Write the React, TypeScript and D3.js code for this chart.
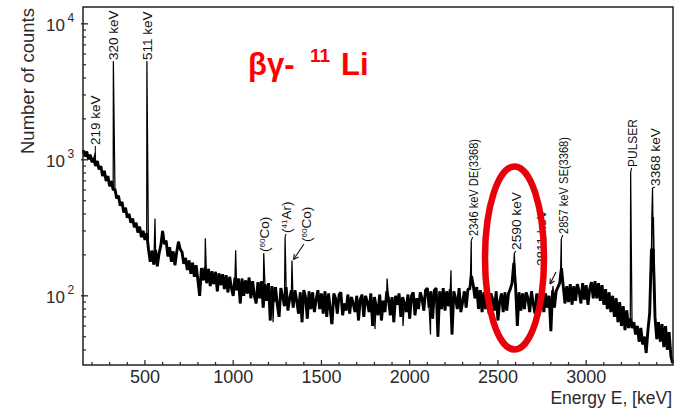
import React from "react";
import * as d3 from "d3";

// ---- data ----
const ENERGY_START = 150; // keV, first sample
const ENERGY_STEP = 10; // keV between continuum samples
const continuumCounts: number[] = [
  1180, 1060, 1150, 1010, 1090, 960, 1030, 900, 980, 850,
  900, 760, 830, 700, 760, 640, 700, 600, 610, 520,
  545, 460, 490, 410, 445, 375, 400, 345, 370, 320,
  345, 292, 322, 270, 300, 258, 288, 220, 178, 215,
  170, 218, 165, 205, 235, 300, 240, 255, 195, 228,
  178, 212, 168, 210, 250, 220, 210, 172, 190, 155,
  182, 145, 175, 138, 168, 130, 100, 160, 130, 162,
  124, 158, 118, 152, 122, 150, 108, 146, 120, 144,
  112, 142, 106, 138, 114, 100, 136, 110, 134, 88,
  134, 100, 130, 104, 136, 96, 128, 100, 88, 126,
  96, 128, 82, 122, 92, 124, 66, 118, 90, 116,
  86, 70, 114, 100, 84, 116, 78, 96, 110, 82,
  110, 92, 74, 106, 64, 110, 98, 68, 108, 80,
  106, 76, 94, 110, 80, 104, 74, 108, 70, 104,
  80, 62, 104, 96, 74, 102, 106, 72, 88, 78,
  102, 74, 98, 88, 76, 100, 66, 94, 102, 70,
  100, 90, 76, 104, 60, 98, 84, 72, 102, 66,
  92, 76, 108, 96, 72, 98, 64, 100, 86, 104,
  70, 98, 88, 76, 102, 68, 100, 106, 72, 96,
  80, 106, 96, 78, 110, 114, 82, 108, 68, 110,
  114, 50, 108, 80, 114, 78, 108, 84, 112, 52,
  108, 96, 80, 114, 76, 90, 108, 82, 112, 112,
  140, 120, 96, 116, 80, 110, 76, 106, 80, 108,
  74, 104, 94, 78, 108, 66, 90, 104, 76, 106,
  78, 104, 112, 124, 175, 118, 60, 106, 78, 104,
  80, 106, 96, 76, 108, 88, 74, 104, 70, 106,
  108, 76, 104, 82, 100, 55, 110, 82, 108, 116,
  124, 160, 118, 88, 118, 90, 122, 86, 118, 92,
  122, 108, 88, 124, 94, 120, 86, 112, 126, 96,
  128, 96, 124, 92, 120, 86, 112, 80, 106, 76,
  100, 70, 96, 64, 90, 60, 84, 56, 78, 58,
  68, 58, 64, 52, 60, 46, 58, 44, 50, 38,
  56, 75, 220, 220, 70, 48, 64, 46, 62, 42,
  60, 40, 54, 36, 32,
];

// narrow lines (peaks) and single-channel spikes
const peakEnergies = [219, 321, 511, 557, 842, 1014, 1173, 1226, 1294, 1333, 1552, 1803, 1872, 1962, 2118, 2234, 2345, 2349, 2593, 2812, 2855, 2859, 3252, 3366, 3372, 3376, 3381, 3386];
const peakCounts = [1130, 5300, 5300, 370, 265, 216, 206, 64, 271, 182, 64, 57, 134, 60, 52, 154, 150, 256, 206, 118, 150, 262, 813, 170, 380, 620, 380, 170];

const xTickValues = d3.range(200, 3500, 100);
const xTickLabelValues = [500, 1000, 1500, 2000, 2500, 3000];
const yDecades = [100, 1000, 10000];
const yDecadeExponents = ["2", "3", "4"];

// ---- layout ----
const W = 677;
const H = 411;
const PL = 83;
const PR = 673;
const PT = 7;
const PB = 365;
const FONT = "'Liberation Sans', Arial, Helvetica, sans-serif";
const INK = "#2a2a2a";

type Part = { t: string; sup?: boolean };
type Ann = {
  parts: Part[];
  energy: number;
  dx: number;
  bottom: number;
  len?: number;
  leaderCount?: number;
  leaderEnergy?: number;
};

const annotations: Ann[] = [
  { parts: [{ t: "219 keV" }], energy: 219, dx: 0, bottom: 145 },
  { parts: [{ t: "320 keV" }], energy: 321, dx: 0, bottom: 60, leaderCount: 5300, leaderEnergy: 321 },
  { parts: [{ t: "511 keV" }], energy: 511, dx: 0, bottom: 60, leaderCount: 5300, leaderEnergy: 511 },
  { parts: [{ t: "(" }, { t: "60", sup: true }, { t: "Co)" }], energy: 1173, dx: 0, bottom: 252, leaderCount: 206, leaderEnergy: 1173 },
  { parts: [{ t: "(" }, { t: "41", sup: true }, { t: "Ar)" }], energy: 1294, dx: 1, bottom: 233, leaderCount: 271, leaderEnergy: 1294 },
  { parts: [{ t: "(" }, { t: "60", sup: true }, { t: "Co)" }], energy: 1333, dx: 14, bottom: 242 },
  { parts: [{ t: "2346 keV DE(3368)" }], energy: 2349, dx: 1.5, bottom: 236, len: 97, leaderCount: 256, leaderEnergy: 2349 },
  { parts: [{ t: "2590 keV" }], energy: 2593, dx: 1.5, bottom: 250, len: 58, leaderCount: 206, leaderEnergy: 2593 },
  { parts: [{ t: "2811 keV" }], energy: 2812, dx: -11.5, bottom: 266 },
  { parts: [{ t: "2857 keV SE(3368)" }], energy: 2859, dx: 1.5, bottom: 234, len: 97, leaderCount: 262, leaderEnergy: 2859 },
  { parts: [{ t: "PULSER" }], energy: 3252, dx: 1, bottom: 167, len: 48, leaderCount: 813, leaderEnergy: 3252 },
  { parts: [{ t: "3368 keV" }], energy: 3376, dx: 2.5, bottom: 186, len: 58, leaderCount: 620, leaderEnergy: 3376 },
];

export default function App() {
  const x = d3.scaleLinear().domain([149, 3492]).range([PL, PR]);
  const y = d3.scaleLog().domain([31, 13300]).range([PB, PT]);

  type P = { e: number; c: number };
  const continuum: P[] = continuumCounts.map((c, i) => ({ e: ENERGY_START + i * ENERGY_STEP, c }));
  const peaks: P[] = peakEnergies.map((e, i) => ({ e, c: peakCounts[i] }));
  const points = [...continuum, ...peaks].sort((a, b) => a.e - b.e);
  const lineGen = d3
    .line<P>()
    .x((d) => x(d.e))
    .y((d) => y(d.c));
  const fullPath = lineGen(points) as string;
  const bandPath = lineGen(continuum) as string;

  const minorY: number[] = [];
  [10, 100, 1000, 10000].forEach((dec) => {
    for (let m = 2; m <= 9; m++) {
      const v = m * dec;
      if (v > 31 && v < 13300) minorY.push(v);
    }
  });

  return (
    <svg
      width={W}
      height={H}
      viewBox={`0 0 ${W} ${H}`}
      style={{ position: "absolute", left: 0, top: 0, background: "#fff" }}
      fontFamily={FONT}
    >
      <rect x={0} y={0} width={W} height={H} fill="#fff" />
      {/* spectrum: dense band of noisy channels, then the full trace with peaks */}
      <path d={bandPath} fill="none" stroke="#000" strokeWidth={2.9} strokeLinejoin="bevel" />
      <path d={fullPath} fill="none" stroke="#000" strokeWidth={1.25} strokeLinejoin="miter" strokeMiterlimit={2} />

      {/* frame */}
      <rect x={PL} y={PT} width={PR - PL} height={PB - PT} fill="none" stroke="#222" strokeWidth={1.5} />

      {/* x ticks */}
      {xTickValues.map((v) => (
        <line
          key={"xt" + v}
          x1={x(v)}
          x2={x(v)}
          y1={PB}
          y2={PB - (v % 500 === 0 ? 5 : 3)}
          stroke="#222"
          strokeWidth={1.2}
        />
      ))}
      {xTickLabelValues.map((v) => (
        <text key={"xl" + v} x={x(v)} y={383} textAnchor="middle" fontSize={18} fill={INK}>
          {v}
        </text>
      ))}

      {/* y ticks */}
      {minorY.map((v) => (
        <line key={"ym" + v} x1={PL} x2={PL + 3} y1={y(v)} y2={y(v)} stroke="#222" strokeWidth={1.2} />
      ))}
      {yDecades.map((v, i) => (
        <g key={"yd" + v}>
          <line x1={PL - 2} x2={PL + 5} y1={y(v)} y2={y(v)} stroke="#222" strokeWidth={1.3} />
          <text x={65} y={y(v) + 7} textAnchor="end" fontSize={17} fill={INK}>
            10
          </text>
          <text x={67.5} y={y(v) - 1.5} fontSize={12} fill={INK}>
            {yDecadeExponents[i]}
          </text>
        </g>
      ))}

      {/* axis titles */}
      <text transform={`translate(28,81) rotate(-90)`} textAnchor="middle" dy="0.35em" fontSize={18.5} fill={INK}>
        Number of counts
      </text>
      <text x={672} y={404} textAnchor="end" fontSize={17.5} fill={INK}>
        Energy E, [keV]
      </text>

      {/* peak labels */}
      {annotations.map((a, i) => {
        const lx = x(a.energy) + a.dx;
        return (
          <g key={"ann" + i}>
            <text
              transform={`translate(${lx},${a.bottom}) rotate(-90)`}
              dy="0.36em"
              fontSize={13.5}
              fill="#111"
              textLength={a.len}
              lengthAdjust={a.len ? "spacingAndGlyphs" : undefined}
            >
              {a.parts.map((p, j) =>
                p.sup ? (
                  <tspan key={j} fontSize={8} baselineShift="super">
                    {p.t}
                  </tspan>
                ) : (
                  <tspan key={j}>{p.t}</tspan>
                )
              )}
            </text>
            {a.leaderCount !== undefined && a.leaderEnergy !== undefined && (
              <line
                x1={lx}
                y1={a.bottom + 1}
                x2={x(a.leaderEnergy)}
                y2={Math.max(a.bottom + 1, y(a.leaderCount))}
                stroke="#111"
                strokeWidth={1.1}
              />
            )}
          </g>
        );
      })}
      {/* 219 keV leader */}
      <line x1={x(219)} x2={x(219)} y1={146} y2={156} stroke="#111" strokeWidth={1.1} />
      {/* (60Co) 1332 arrow */}
      <line x1={304} y1={244} x2={293.5} y2={259.5} stroke="#111" strokeWidth={1.1} />
      <path d="M293.5,259.5 L294.3,253.8 M293.5,259.5 L298.6,257" stroke="#111" strokeWidth={1.1} fill="none" />
      {/* 2811 arrow */}
      <line x1={556} y1={272} x2={550} y2={284} stroke="#111" strokeWidth={1.1} />
      <path d="M550,284 L550.3,278.5 M550,284 L554.4,281" stroke="#111" strokeWidth={1.1} fill="none" />

      {/* title */}
      <text x={248} y={75} fontSize={31} fontWeight="bold" fill="#f00">
        βγ-
      </text>
      <text x={310} y={62} fontSize={19} fontWeight="bold" fill="#f00">
        11
      </text>
      <text x={341} y={75} fontSize={31} fontWeight="bold" fill="#f00">
        Li
      </text>

      {/* highlight ellipse */}
      <ellipse cx={514.5} cy={258} rx={29.5} ry={91.5} fill="none" stroke="#e8000b" strokeWidth={6.5} />
    </svg>
  );
}
